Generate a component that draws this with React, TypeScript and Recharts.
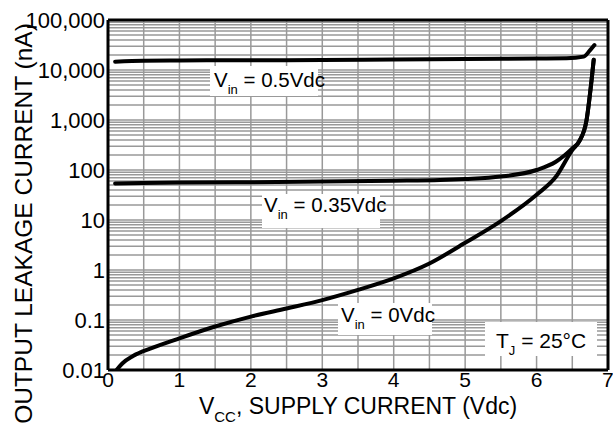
import React from "react";
import {
  LineChart,
  Line,
  XAxis,
  YAxis,
  ReferenceLine,
} from "recharts";

// axis ticks
const X_TICKS = [0, 1, 2, 3, 4, 5, 6, 7];
const Y_TICKS = [0.01, 0.1, 1, 10, 100, 1000, 10000, 100000];
const X_GRID = [0.5, 1, 1.5, 2, 2.5, 3, 3.5, 4, 4.5, 5, 5.5, 6, 6.5];
const DECADE_STEPS = [1, 2, 3, 4, 5, 6, 7, 8, 9];

// Vin = 0 Vdc
const VCC_0 = [0.12, 0.2, 0.35, 0.6, 1.0, 1.5, 2.0, 2.5, 3.0, 3.5, 4.0, 4.5, 5.0, 5.5, 6.0, 6.27, 6.5, 6.6, 6.7, 6.77, 6.8];
const LEAK_0 = [0.01, 0.0135, 0.019, 0.027, 0.043, 0.074, 0.117, 0.17, 0.25, 0.4, 0.68, 1.35, 3.5, 9.5, 32, 73, 250, 380, 1000, 6300, 16000];

// Vin = 0.35 Vdc
const VCC_35 = [0.1, 1, 2, 3, 4, 4.65, 5, 5.5, 6.0, 6.27, 6.5, 6.6, 6.7, 6.77, 6.8];
const LEAK_35 = [54, 56, 57, 59, 61, 63, 66, 74, 100, 146, 270, 380, 1000, 6300, 16000];

// Vin = 0.5 Vdc
const VCC_5 = [0.1, 0.5, 1, 2, 3, 4, 5, 6, 6.42, 6.66, 6.75, 6.81];
const LEAK_5 = [14700, 15300, 15500, 15700, 15800, 16200, 16600, 17000, 17200, 18500, 25000, 31600];

const FONT = "'Liberation Sans', Arial, sans-serif";
const GRID = "#999";

const toRows = (xs: number[], ys: number[]) =>
  xs.map((vcc, i) => ({ vcc, leak: ys[i] }));

// log minor grid: 1..9 in each decade
const Y_GRID = Y_TICKS.slice(0, -1).flatMap((d) => DECADE_STEPS.map((m) => d * m));

const fmtY = (v: number) =>
  v >= 1000 ? v.toLocaleString("en-US") : String(v);

export default function App() {
  const curves = [toRows(VCC_0, LEAK_0), toRows(VCC_35, LEAK_35), toRows(VCC_5, LEAK_5)];

  return (
    <div style={{ position: "absolute", left: 0, top: 0, width: 613, height: 428, background: "#fff" }}>
      <LineChart
        width={613}
        height={428}
        margin={{ top: 20, right: 5, bottom: 0, left: 0 }}
        style={{ fontFamily: FONT }}
      >
        <XAxis
          dataKey="vcc"
          type="number"
          domain={[0, 7]}
          ticks={X_TICKS}
          height={58}
          tickLine={false}
          tickSize={0}
          tickMargin={2}
          axisLine={{ stroke: "#000", strokeWidth: 3 }}
          tick={{ fill: "#000", fontSize: 21, fontFamily: FONT }}
          allowDataOverflow
        />
        <YAxis
          dataKey="leak"
          type="number"
          scale="log"
          domain={[0.01, 100000]}
          ticks={Y_TICKS}
          width={108}
          tickLine={false}
          tickSize={0}
          tickMargin={3}
          tickFormatter={fmtY}
          axisLine={{ stroke: "#000", strokeWidth: 3 }}
          tick={{ fill: "#000", fontSize: 22, fontFamily: FONT }}
          allowDataOverflow
        />
        {Y_GRID.map((v) => (
          <ReferenceLine key={"h" + v} y={v} stroke={GRID} strokeWidth={1.5} />
        ))}
        {X_GRID.map((v) => (
          <ReferenceLine key={"v" + v} x={v} stroke={GRID} strokeWidth={1.5} />
        ))}
        <ReferenceLine y={100000} stroke="#000" strokeWidth={3} />
        <ReferenceLine x={7} stroke="#000" strokeWidth={3} />
        {curves.map((rows, i) => (
          <Line
            key={i}
            data={rows}
            dataKey="leak"
            type="monotone"
            stroke="#000"
            strokeWidth={4}
            strokeLinecap="round"
            dot={false}
            isAnimationActive={false}
          />
        ))}
      </LineChart>
      <svg
        width={613}
        height={428}
        style={{ position: "absolute", left: 0, top: 0, pointerEvents: "none", fontFamily: FONT }}
      >
        <rect x={210} y={66} width={108} height={30} fill="#fff" />
        <text x={214} y={87} fontSize={20.5}>
          V<tspan fontSize={13} dy={7}>in</tspan>
          <tspan dy={-7}> = 0.5Vdc</tspan>
        </text>

        <rect x={262} y={194} width={118} height={34} fill="#fff" />
        <text x={264} y={212} fontSize={20.5}>
          V<tspan fontSize={13} dy={7}>in</tspan>
          <tspan dy={-7}> = 0.35Vdc</tspan>
        </text>

        <rect x={338} y={303} width={94} height={32} fill="#fff" />
        <text x={341} y={322} fontSize={20.5}>
          V<tspan fontSize={13} dy={7}>in</tspan>
          <tspan dy={-7}> = 0Vdc</tspan>
        </text>

        <rect x={485} y={322} width={112} height={34} fill="#fff" />
        <text x={496} y={348} fontSize={21}>
          T<tspan fontSize={13} dy={7}>J</tspan>
          <tspan dy={-7}> = 25°C</tspan>
        </text>

        <text x={358} y={414} fontSize={23} textAnchor="middle">
          V<tspan fontSize={15} dy={8}>CC</tspan>
          <tspan dy={-8}>, SUPPLY CURRENT (Vdc)</tspan>
        </text>
        <text
          transform="translate(32, 223.5) rotate(-90)"
          fontSize={24.5}
          textAnchor="middle"
        >
          OUTPUT LEAKAGE CURRENT (nA)
        </text>
      </svg>
    </div>
  );
}
